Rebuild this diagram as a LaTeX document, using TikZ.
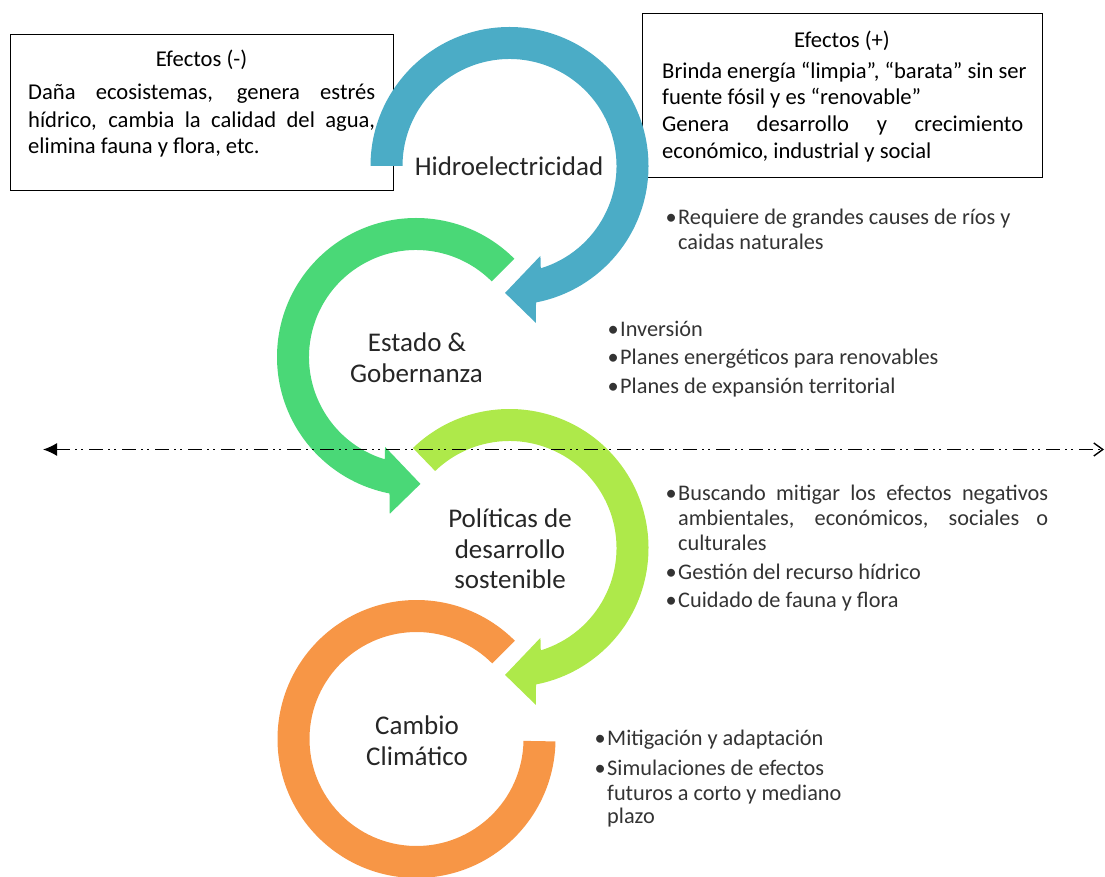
\documentclass[tikz,border=0pt]{standalone}
\usepackage{fontspec}
\setmainfont{Carlito}
\usetikzlibrary{arrows.meta}
\definecolor{ringblue}{HTML}{4BACC6}
\definecolor{ringgreen}{HTML}{4AD877}
\definecolor{ringlime}{HTML}{AEE94A}
\definecolor{ringorange}{HTML}{F79646}
\begin{document}
\begin{tikzpicture}[x=1pt,y=1pt,
  boxtxt/.style={inner sep=0pt, font=\fontsize{22.6}{26}\selectfont, text=black},
  bultxt/.style={inner sep=0pt, anchor=base west, font=\fontsize{22.3}{26}\selectfont, text=black!80},
  lbl/.style={inner sep=0pt, anchor=base, font=\fontsize{27}{32}\selectfont, text=black!85},
  frame/.style={draw=black, line width=1.3pt, inner sep=0pt, anchor=south west},
  dashdotdot/.style={line width=1.4pt, dash pattern=on 14pt off 5pt on 2pt off 4pt on 2pt off 6pt}]
\useasboundingbox (0,0) rectangle (1105,876);
% boxes
\node[frame, minimum width=383pt, minimum height=156pt] (negbox) at (10,685) {};
\node[frame, minimum width=400pt, minimum height=164pt] (posbox) at (642,698) {};
\node[boxtxt, anchor=base] (negT) at (201.5,809.3) {Efectos (-)};
\node[boxtxt, anchor=base west] (neg1) at (28,776) {\makebox[347pt][s]{Daña ecosistemas, genera estrés}};
\node[boxtxt, anchor=base west] (neg2) at (28,748.7) {\makebox[347pt][s]{hídrico, cambia la calidad del agua,}};
\node[boxtxt, anchor=base west] (neg3) at (28,722.7) {elimina fauna y flora, etc.};
\node[boxtxt, anchor=base] (posT) at (842,828.7) {Efectos (+)};
\node[boxtxt, anchor=base west] (pos1) at (662,797.7) {Brinda energía “limpia”, “barata” sin ser};
\node[boxtxt, anchor=base west] (pos2) at (662,771) {fuente fósil y es “renovable”};
\node[boxtxt, anchor=base west] (pos3) at (662,744.3) {\makebox[361pt][s]{Genera desarrollo y crecimiento}};
\node[boxtxt, anchor=base west] (pos4) at (662,717.7) {económico, industrial y social};
% rings
\begin{scope}[shift={(509.5,710)}]
\fill[ringblue] (180:107) -- (180:139) arc[start angle=180,end angle=-79,radius=139]
  -- (-80.5:159) -- (-92:127) -- (-71:95) -- (-73:107)
  arc[start angle=-73,end angle=180,radius=107] -- cycle;
\end{scope}
\begin{scope}[shift={(416,519)}]
\fill[ringgreen] (45:107) -- (45:139) arc[start angle=45,end angle=259,radius=139]
  -- (260.5:159) -- (272:127) -- (251:95) -- (253:107)
  arc[start angle=253,end angle=45,radius=107] -- cycle;
\end{scope}
\begin{scope}[shift={(509.5,328)}]
\fill[ringlime] (134:107) -- (134:139) arc[start angle=134,end angle=-79,radius=139]
  -- (-80.5:159) -- (-92:127) -- (-71:95) -- (-73:107)
  arc[start angle=-73,end angle=134,radius=107] -- cycle;
\end{scope}
\begin{scope}[shift={(416.5,137)}]
\fill[ringorange] (45:107) -- (45:139) arc[start angle=45,end angle=359,radius=139]
  -- (359:107) arc[start angle=359,end angle=45,radius=107] -- cycle;
\end{scope}
% ring labels
\node[lbl] (hidro) at (509,700) {Hidroelectricidad};
\node[lbl] (estado1) at (417,524.3) {Estado \&};
\node[lbl] (estado2) at (416.5,493.7) {Gobernanza};
\node[lbl] (pol1) at (510,348.7) {Políticas de};
\node[lbl] (pol2) at (510,317.7) {desarrollo};
\node[lbl] (pol3) at (510,287.7) {sostenible};
\node[lbl] (cc1) at (417,142) {Cambio};
\node[lbl] (cc2) at (417,111) {Climático};
% bullets
\node[bultxt] (b1a) at (678,651) {\llap{•\kern1.5pt}Requiere de grandes causes de ríos y};
\node[bultxt] (b1b) at (678,626) {caidas naturales};
\node[bultxt] (b2a) at (620,539) {\llap{•\kern1.5pt}Inversión};
\node[bultxt] (b2b) at (620,511) {\llap{•\kern1.5pt}Planes energéticos para renovables};
\node[bultxt] (b2c) at (620,482) {\llap{•\kern1.5pt}Planes de expansión territorial};
\node[bultxt] (b3a) at (678,375.3) {\llap{•\kern1.5pt}\makebox[370pt][s]{Buscando mitigar los efectos negativos}};
\node[bultxt] (b3b) at (678,350) {\makebox[370pt][s]{ambientales, económicos, sociales o}};
\node[bultxt] (b3c) at (678,325) {culturales};
\node[bultxt] (b3d) at (678,297) {\llap{•\kern1.5pt}Gestión del recurso hídrico};
\node[bultxt] (b3e) at (678,268.3) {\llap{•\kern1.5pt}Cuidado de fauna y flora};
\node[bultxt] (b4a) at (607,131) {\llap{•\kern1.5pt}Mitigación y adaptación};
\node[bultxt] (b4b) at (607,101) {\llap{•\kern1.5pt}Simulaciones de efectos};
\node[bultxt] (b4c) at (607,76) {futuros a corto y mediano};
\node[bultxt] (b4d) at (607,52.7) {plazo};
% dash-dot axis
\coordinate (dl) at (43,426.5);
\coordinate (dr) at (1104,426.5);
\draw[dashdotdot, {Latex[length=14pt,width=13pt]}-{Straight Barb[length=9pt,width=13pt]}] (dl) -- (dr);
\end{tikzpicture}
\end{document}
